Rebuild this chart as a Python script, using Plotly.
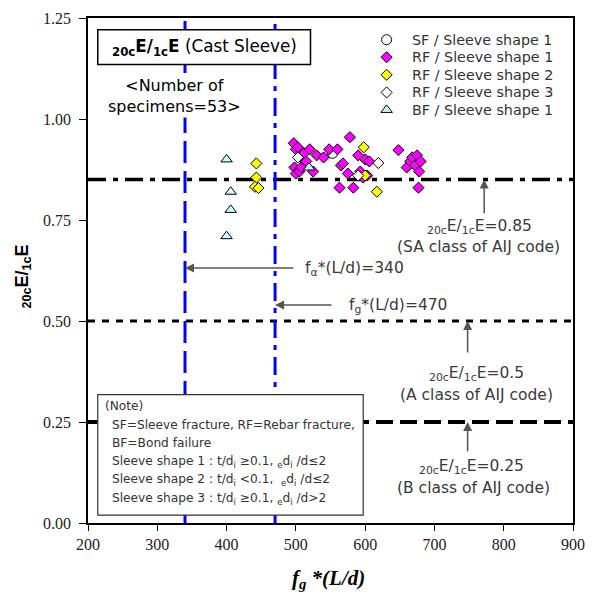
import plotly.graph_objects as go

# ---- specimen results: f_g*(L/d) vs 20cE/1cE ----
sf1_x = [553]
sf1_y = [0.915]

rf1_x = [497, 500, 503, 498, 500, 505, 508, 510, 512, 515, 520, 525, 530,
         540, 548, 560, 565, 568, 563, 578, 575, 583, 590, 593, 597, 600,
         603, 606, 648, 660, 665, 668, 672, 675, 678, 680, 677]
rf1_y = [0.94, 0.925, 0.93, 0.88, 0.865, 0.87, 0.88, 0.90, 0.915, 0.895, 0.925, 0.87, 0.91,
         0.905, 0.925, 0.925, 0.885, 0.89, 0.83, 0.955, 0.865, 0.83, 0.91, 0.87, 0.855, 0.90,
         0.86, 0.895, 0.923, 0.88, 0.895, 0.905, 0.885, 0.91, 0.87, 0.895, 0.83]

rf2_x = [443, 443, 441, 446, 598, 600, 617]
rf2_y = [0.89, 0.855, 0.832, 0.829, 0.93, 0.86, 0.82]

rf3_x = [503, 619, 590]
rf3_y = [0.905, 0.891, 0.86]

bf1_x = [400, 406, 406, 400, 519]
bf1_y = [0.90, 0.82, 0.775, 0.71, 0.88]

# AIJ code class limits and f*(L/d) limits
sa_level, a_level, b_level = 0.85, 0.5, 0.25
fa_limit, fg_limit = 340, 470

x_ticks = [200, 300, 400, 500, 600, 700, 800, 900]
y_ticks = [0.0, 0.25, 0.5, 0.75, 1.0, 1.25]

# ---- page geometry (pixels) ----
W = H = 595
L, R, T, B = 88, 585, 12, 523
X0, X1 = x_ticks[0], x_ticks[-1]
Y0, Y1 = y_ticks[0], y_ticks[-1]


def px(xp):
    return (xp - L) / (R - L)


def py(yp):
    return (B - yp) / (B - T)


def dx(xp):
    return X0 + px(xp) * (X1 - X0)


def dy(yp):
    return Y0 + py(yp) * (Y1 - Y0)


SANS = "DejaVu Sans"
SERIF = "Liberation Serif"
GRAY = "#3a3a3a"

fig = go.Figure()

series = [
    ("SF / Sleeve shape 1", sf1_x, sf1_y, "circle", "white", 10),
    ("RF / Sleeve shape 1", rf1_x, rf1_y, "diamond", "#FF00FF", 8.5),
    ("RF / Sleeve shape 2", rf2_x, rf2_y, "diamond", "#FFFF00", 8.5),
    ("RF / Sleeve shape 3", rf3_x, rf3_y, "diamond", "white", 8.5),
    ("BF / Sleeve shape 1", bf1_x, bf1_y, "triangle-up", "#CCFFFF", 10),
]
for name, xs, ys, sym, fill, size in series:
    fig.add_trace(go.Scatter(
        x=xs, y=ys, mode="markers", name=name, showlegend=False,
        marker=dict(symbol=sym, size=size, color=fill,
                    line=dict(color="black", width=1)),
    ))

# key in the upper right corner
key_rows = [34, 51.7, 69.5, 87.3, 105]
key_ann = []
for (name, _, _, sym, fill, size), yr in zip(series, key_rows):
    fig.add_trace(go.Scatter(
        x=[dx(394)], y=[dy(yr)], mode="markers", showlegend=False,
        hoverinfo="skip",
        marker=dict(symbol=sym, size=size, color=fill,
                    line=dict(color="black", width=1)),
    ))
    key_ann.append(dict(xref="paper", yref="paper", x=px(418), y=py(yr),
                        text=name, showarrow=False, xanchor="left",
                        yanchor="middle",
                        font=dict(family=SANS, size=14.3, color="#333333")))

line_x = [X0, X1]
shapes = [
    # horizontal class limits
    dict(type="line", xref="x", yref="y", x0=line_x[0], x1=line_x[1],
         y0=sa_level, y1=sa_level, layer="below",
         line=dict(color="black", width=3.5, dash="18px,7px,5px,7px")),
    dict(type="line", xref="x", yref="y", x0=line_x[0], x1=line_x[1],
         y0=a_level, y1=a_level, layer="below",
         line=dict(color="black", width=3, dash="7px,7px")),
    dict(type="line", xref="x", yref="y", x0=line_x[0], x1=line_x[1],
         y0=b_level, y1=b_level, layer="below",
         line=dict(color="black", width=4, dash="17px,7px")),
    # vertical f*(L/d) limits
    dict(type="line", xref="x", yref="y", x0=fa_limit, x1=fa_limit,
         y0=Y0, y1=Y1, layer="below",
         line=dict(color="#0000FF", width=3, dash="22px,8px")),
    dict(type="line", xref="x", yref="y", x0=fg_limit, x1=fg_limit,
         y0=Y0, y1=Y1, layer="below",
         line=dict(color="#0000FF", width=3, dash="18px,7px,5px,7px")),
    # title box
    dict(type="rect", xref="paper", yref="paper", x0=px(98), x1=px(316),
         y0=py(59), y1=py(24), layer="above", fillcolor="white",
         line=dict(color="black", width=1.5)),
    # note box
    dict(type="rect", xref="paper", yref="paper", x0=px(98), x1=px(370),
         y0=py(515), y1=py(393), layer="above", fillcolor="white",
         line=dict(color="#333333", width=1.2)),
]

ann = list(key_ann)
ratio = "<sub>20c</sub>E/<sub>1c</sub>E"

# title and specimen count
ann.append(dict(xref="paper", yref="paper", x=px(207), y=py(42),
                text="<b>" + ratio + "</b> (Cast Sleeve)", showarrow=False,
                font=dict(family=SANS, size=16.8, color="black"),
                xanchor="center", yanchor="middle"))
ann.append(dict(xref="paper", yref="paper", x=px(177), y=py(91),
                text="&lt;Number of<br>specimens=53&gt;", showarrow=False,
                font=dict(family=SANS, size=16, color="black"),
                bgcolor="white", xanchor="center", yanchor="middle"))

# arrows pointing at the limit lines
arrow_style = dict(text="", showarrow=True, arrowhead=2, arrowsize=1.2,
                   arrowwidth=1.5, arrowcolor="#555555", standoff=0,
                   xref="x", yref="y", axref="x", ayref="y")
ann.append(dict(x=dx(494), y=sa_level, ax=dx(494), ay=dy(211), **arrow_style))
ann.append(dict(x=dx(477), y=a_level, ax=dx(477), ay=dy(352), **arrow_style))
ann.append(dict(x=dx(477), y=b_level, ax=dx(477), ay=dy(452), **arrow_style))
ann.append(dict(x=fa_limit, y=dy(265), ax=dx(300), ay=dy(265), **arrow_style))
ann.append(dict(x=fg_limit, y=dy(302.5), ax=dx(339), ay=dy(302.5), **arrow_style))

lbl = dict(xref="paper", yref="paper", showarrow=False,
           font=dict(family=SANS, size=15.5, color=GRAY), yanchor="middle")
ann.append(dict(x=px(489), y=py(223), text=ratio + "=0.85", xanchor="center", **lbl))
ann.append(dict(x=px(488), y=py(244), text="(SA class of AIJ code)", xanchor="center", **lbl))
ann.append(dict(x=px(486), y=py(372), text=ratio + "=0.5", xanchor="center", **lbl))
ann.append(dict(x=px(486), y=py(393), text="(A class of AIJ code)", xanchor="center", **lbl))
ann.append(dict(x=px(481), y=py(466), text=ratio + "=0.25", xanchor="center", **lbl))
ann.append(dict(x=px(483), y=py(488), text="(B class of AIJ code)", xanchor="center", **lbl))
ann.append(dict(x=px(308), y=py(266), text="f<sub>α</sub>*(L/d)=340", xanchor="left", **lbl))
ann.append(dict(x=px(353), y=py(303), text="f<sub>g</sub>*(L/d)=470", xanchor="left", **lbl))

# note text
note = dict(xref="paper", yref="paper", showarrow=False, xanchor="left",
            yanchor="middle", font=dict(family=SANS, size=12.2, color="#333333"))
note_lines = [
    (103, 405, "(Note)"),
    (111, 423.5, "SF=Sleeve fracture, RF=Rebar fracture,"),
    (111, 442, "BF=Bond failure"),
    (111, 461, "Sleeve shape 1 : t/d<sub>i</sub> ≥0.1, <sub>e</sub>d<sub>i</sub> /d≤2"),
    (111, 479.5, "Sleeve shape 2 : t/d<sub>i</sub> &lt;0.1,  <sub>e</sub>d<sub>i</sub> /d≤2"),
    (111, 498.5, "Sleeve shape 3 : t/d<sub>i</sub> ≥0.1, <sub>e</sub>d<sub>i</sub> /d&gt;2"),
]
for xp_, yp_, t in note_lines:
    ann.append(dict(x=px(xp_), y=py(yp_), text=t, **note))

# axis titles
ann.append(dict(xref="paper", yref="paper", x=px(22), y=py(274),
                text="<b>" + ratio + "</b>", textangle=-90, showarrow=False,
                font=dict(family="Liberation Sans", size=18, color="black"),
                xanchor="center", yanchor="middle"))
ann.append(dict(xref="paper", yref="paper", x=px(334), y=py(580),
                text="<b><i>f<sub>g</sub> *(L/d)</i></b>", showarrow=False,
                font=dict(family=SERIF, size=21, color="black"),
                xanchor="center", yanchor="middle"))

fig.update_layout(
    width=W, height=H,
    margin=dict(l=L, r=W - R, t=T, b=H - B),
    paper_bgcolor="white", plot_bgcolor="white",
    shapes=shapes, annotations=ann,
    showlegend=False,
    xaxis=dict(range=[X0, X1], tickvals=x_ticks,
               showgrid=False, zeroline=False, showline=True, linecolor="black",
               linewidth=1.5, mirror=True, ticks="outside", ticklen=6,
               tickcolor="black", tickwidth=1.2,
               tickfont=dict(family=SERIF, size=16, color="#222222")),
    yaxis=dict(range=[Y0, Y1], tickvals=y_ticks,
               tickformat=".2f", showgrid=False, zeroline=False, showline=True,
               linecolor="black", linewidth=1.5, mirror=True, ticks="outside",
               ticklen=7, tickcolor="black", tickwidth=1.2,
               ticklabelstandoff=5,
               tickfont=dict(family=SERIF, size=16, color="#222222")),
)

fig.write_html("out.html")
